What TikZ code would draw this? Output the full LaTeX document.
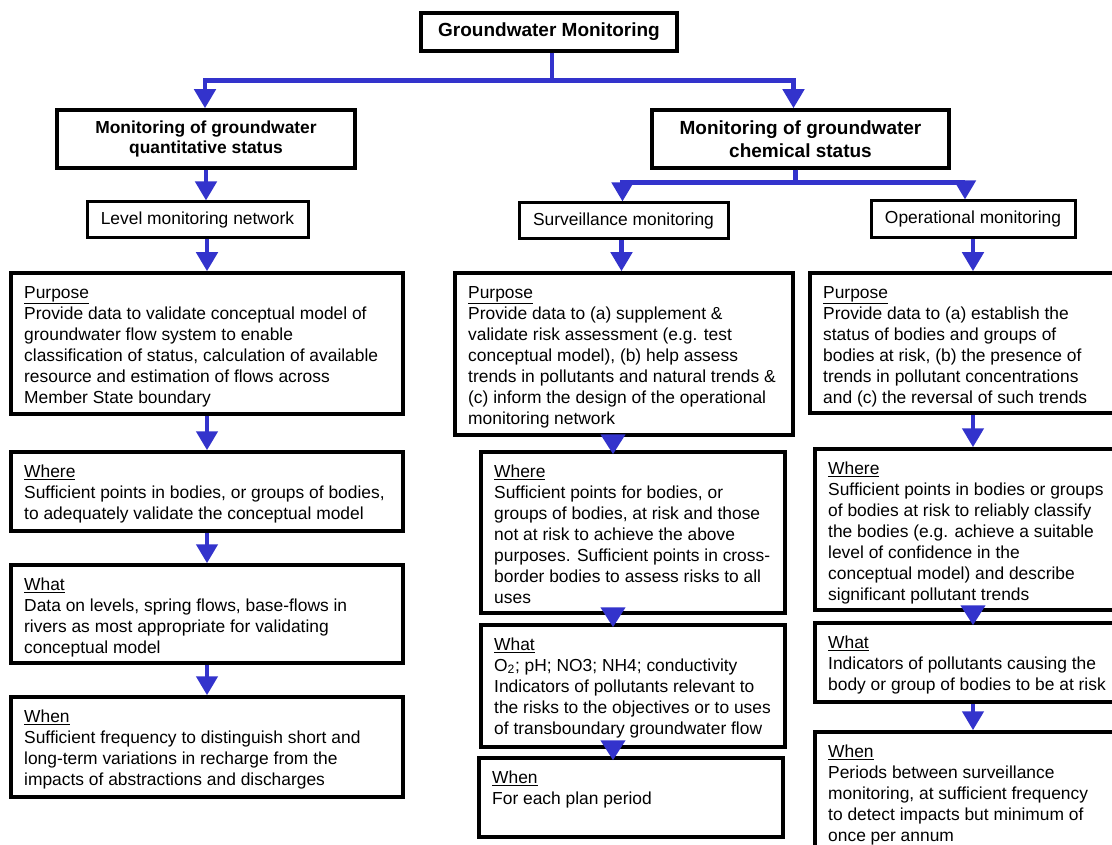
\documentclass[tikz,border=0pt]{standalone}
\usepackage{fontspec}
\setmainfont{Liberation Sans}
\usetikzlibrary{arrows.meta,calc}
\definecolor{arrblue}{RGB}{51,51,204}
\tikzset{
  boxst/.style={draw=black, line width=3.5pt, fill=white, rectangle, inner sep=0pt},
  txtst/.style={anchor=north west, inner sep=0pt, align=left, font=\fontsize{17.4}{21}\selectfont},
  hdst/.style={boxst, align=center, font=\bfseries\fontsize{17.4}{20}\selectfont},
  hdbig/.style={boxst, align=center, font=\bfseries\fontsize{19}{23}\selectfont},
  smst/.style={boxst, line width=3pt, align=center, font=\fontsize{17.4}{21}\selectfont},
  arr/.style={draw=arrblue, line width=4.5pt, -{Triangle[width=21pt,length=19pt]}, arrblue},
  arrs/.style={draw=arrblue, line width=4.5pt, -{Triangle[width=24pt,length=20pt]}, arrblue}
}
\newcommand{\bx}[6]{%
  \node[boxst, minimum width={#4-#2}, minimum height={#5-#3}] (#1) at ({(#2+#4)/2},{(#3+#5)/2}) {};
  \node[txtst] (#1t) at ({#2+13},{#3+25-14.7}) {\strut #6};
}
\begin{document}
\begin{tikzpicture}[x=1pt,y=-1pt]
\useasboundingbox (0,0) rectangle (1112,845);
\clip (0,0) rectangle (1112,845);
\fill[white] (0,0) rectangle (1112,845);

% headers
\node[hdbig, minimum width=256, minimum height=38] (title) at (549,32) {Groundwater Monitoring};
\node[hdst, minimum width=298, minimum height=58] (quant) at (206,139) {Monitoring of groundwater\\quantitative status};
\node[hdbig, minimum width=297, minimum height=58] (chem) at (800.5,139) {Monitoring of groundwater\\chemical status};
\node[smst, minimum width=221, minimum height=36] (lvl) at (197.5,220) {Level monitoring network};
\node[smst, minimum width=209, minimum height=36] (surv) at (623.5,221) {Surveillance monitoring};
\node[smst, minimum width=204, minimum height=37] (op) at (973,219.5) {Operational monitoring};

% left column
\bx{lp}{11}{273}{403}{414}{\underline{Purpose}\\Provide data to validate conceptual model of\\groundwater flow system to enable\\classification of status, calculation of available\\resource and estimation of flows across\\Member State boundary}
\bx{lw}{11}{452}{403}{531}{\underline{Where}\\Sufficient points in bodies, or groups of bodies,\\to adequately validate the conceptual model}
\bx{lwh}{11}{565}{403}{663}{\underline{What}\\Data on levels, spring flows, base-flows in\\rivers as most appropriate for validating\\conceptual model}
\bx{lwn}{11}{697}{403}{797}{\underline{When}\\Sufficient frequency to distinguish short and\\long-term variations in recharge from the\\impacts of abstractions and discharges}

% surveillance column
\bx{sp}{455}{273}{793}{435}{\underline{Purpose}\\Provide data to (a) supplement \&\\validate risk assessment (e.g. test\\conceptual model), (b) help assess\\trends in pollutants and natural trends \&\\(c) inform the design of the operational\\monitoring network}
\bx{sw}{481}{452}{785}{613}{\underline{Where}\\Sufficient points for bodies, or\\groups of bodies, at risk and those\\not at risk to achieve the above\\purposes. Sufficient points in cross-\\border bodies to assess risks to all\\uses}
\bx{swh}{481}{625}{785}{747}{\underline{What}\\O\textsubscript{2}; pH; NO3; NH4; conductivity\\Indicators of pollutants relevant to\\the risks to the objectives or to uses\\of transboundary groundwater flow}
\bx{swn}{479}{758}{783}{837}{\underline{When}\\For each plan period}

% operational column
\bx{opp}{810}{273}{1130}{413}{\underline{Purpose}\\Provide data to (a) establish the\\status of bodies and groups of\\bodies at risk, (b) the presence of\\trends in pollutant concentrations\\and (c) the reversal of such trends}
\bx{opw}{815}{449}{1130}{610}{\underline{Where}\\Sufficient points in bodies or groups\\of bodies at risk to reliably classify\\the bodies (e.g. achieve a suitable\\level of confidence in the\\conceptual model) and describe\\significant pollutant trends}
\bx{opwh}{815}{623}{1130}{702}{\underline{What}\\Indicators of pollutants causing the\\body or group of bodies to be at risk}
\bx{opwn}{815}{732}{1130}{870}{\underline{When}\\Periods between surveillance\\monitoring, at sufficient frequency\\to detect impacts but minimum of\\once per annum}

% connectors
\draw[arr] ([xshift=3pt]title.south) -- ++(0,28) -| ([xshift=-1pt]quant.north);
\draw[arr] ([xshift=3pt]title.south) -- ++(0,28) -| ([xshift=-7pt]chem.north);
\draw[arr] (quant.south) -- (quant.south |- lvl.north);
\draw[arr] (lp.north |- lvl.south) -- (lp.north);
\draw[arr] (lp.south) -- (lw.north);
\draw[arr] (lw.south) -- (lwh.north);
\draw[arr] (lwh.south) -- (lwn.north);

\draw[arr] ([xshift=-5pt]chem.south) -- ++(0,13) -| ([xshift=-1pt]surv.north);
\draw[arr] ([xshift=-5pt]chem.south) -- ++(0,13) -| ([xshift=-8pt]op.north);
\draw[arr] ([xshift=-2pt]surv.south) -- ([xshift=-2pt]surv.south |- sp.north);
\coordinate (sx) at (613,0);
\draw[arrs] (sp.south -| sx) -- ([yshift=-4pt]sw.north -| sx);
\draw[arrs] (sw.south -| sx) -- ([yshift=-4pt]swh.north -| sx);
\draw[arrs] (swh.south -| sx) -- ([yshift=-4pt]swn.north -| sx);

\draw[arr] (op.south) -- (op.south |- opp.north);
\draw[arr] (op.south |- opp.south) -- (op.south |- opw.north);
\draw[arrs] (op.south |- opw.south) -- ([yshift=-4pt]op.south |- opwh.north);
\draw[arr] (op.south |- opwh.south) -- (op.south |- opwn.north);
\end{tikzpicture}
\end{document}
